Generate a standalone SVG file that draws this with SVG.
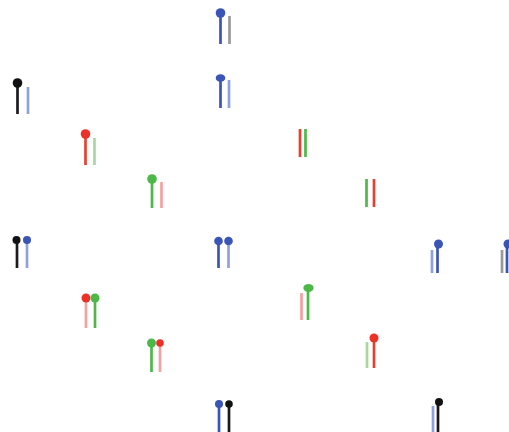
<svg xmlns="http://www.w3.org/2000/svg" width="509" height="432" viewBox="0 0 509 432">
<style>
line{stroke-width:2.7}
.b{stroke:#3a55b5}.lb{stroke:#8fa0e0}.k{stroke:#1a1a1a}.g{stroke:#999}
.r{stroke:#e8402e}.lr{stroke:#f2a0a0}.gr{stroke:#4cb848}.lg{stroke:#a8d8a0}
.fb{fill:#3a55b5}.fk{fill:#111}.fr{fill:#ec3228}.fg{fill:#4cb848}
</style>
<rect width="509" height="432" fill="#fff"/>
<g id="s1"><line class="b" x1="220.5" y1="13" x2="220.5" y2="44"/><line class="g" x1="229.5" y1="16" x2="229.5" y2="44"/><circle class="fb" cx="220.5" cy="13" r="4.8"/></g>
<g id="s2"><line class="k" x1="17.5" y1="83" x2="17.5" y2="114"/><line class="lb" x1="28" y1="87" x2="28" y2="114"/><circle class="fk" cx="17.5" cy="83" r="4.8"/></g>
<g id="s3"><line class="b" x1="220.5" y1="78" x2="220.5" y2="108"/><line class="lb" x1="229" y1="80" x2="229" y2="108"/><ellipse class="fb" cx="220.5" cy="78" rx="4.8" ry="3.8"/></g>
<g id="s4"><line class="r" x1="85.5" y1="134" x2="85.5" y2="165"/><line class="lg" x1="94.5" y1="138" x2="94.5" y2="165"/><circle class="fr" cx="85.5" cy="134" r="4.8"/></g>
<g id="s5"><line class="r" x1="300" y1="129" x2="300" y2="157"/><line class="gr" x1="305.5" y1="129" x2="305.5" y2="157"/></g>
<g id="s6"><line class="gr" x1="152" y1="179" x2="152" y2="208"/><line class="lr" x1="161.5" y1="182" x2="161.5" y2="208"/><circle class="fg" cx="152" cy="179" r="4.8"/></g>
<g id="s7"><line class="gr" x1="366.5" y1="179" x2="366.5" y2="207"/><line class="r" x1="374" y1="179" x2="374" y2="207"/></g>
<g id="s8"><line class="k" x1="17" y1="240" x2="17" y2="268"/><line class="lb" x1="27" y1="240" x2="27" y2="268"/><circle class="fk" cx="16.5" cy="240" r="4"/><circle class="fb" cx="27" cy="240" r="4"/></g>
<g id="s9"><line class="b" x1="218.5" y1="241" x2="218.5" y2="268"/><line class="lb" x1="228.5" y1="241" x2="228.5" y2="268"/><circle class="fb" cx="218.5" cy="241" r="4.3"/><circle class="fb" cx="228.5" cy="241" r="4.3"/></g>
<g id="s10"><line class="lb" x1="432" y1="250" x2="432" y2="273"/><line class="b" x1="437.5" y1="246" x2="437.5" y2="273"/><circle class="fb" cx="438.5" cy="244" r="4.5"/></g>
<g id="s11"><line class="g" x1="502" y1="250" x2="502" y2="273"/><line class="b" x1="507" y1="246" x2="507" y2="273"/><circle class="fb" cx="508" cy="244" r="4.5"/></g>
<g id="s12"><line class="lr" x1="86" y1="298" x2="86" y2="328"/><line class="gr" x1="95" y1="298" x2="95" y2="328"/><circle class="fr" cx="86" cy="298" r="4.5"/><circle class="fg" cx="95" cy="298" r="4.5"/></g>
<g id="s13"><line class="lr" x1="301.5" y1="293" x2="301.5" y2="320"/><line class="gr" x1="308" y1="288" x2="308" y2="320"/><ellipse class="fg" cx="308.5" cy="288" rx="5.2" ry="4"/></g>
<g id="s14"><line class="gr" x1="151.5" y1="343" x2="151.5" y2="372"/><line class="lr" x1="160" y1="343" x2="160" y2="372"/><circle class="fg" cx="151.5" cy="343" r="4.5"/><circle class="fr" cx="160" cy="343" r="3.8"/></g>
<g id="s15"><line class="lg" x1="367" y1="342" x2="367" y2="368"/><line class="r" x1="374" y1="338" x2="374" y2="368"/><circle class="fr" cx="374" cy="338" r="4.5"/></g>
<g id="s16"><line class="b" x1="219" y1="404" x2="219" y2="432"/><line class="k" x1="229" y1="404" x2="229" y2="432"/><circle class="fb" cx="219" cy="404" r="4"/><circle class="fk" cx="229" cy="404" r="3.8"/></g>
<g id="s17"><line class="lb" x1="433" y1="406" x2="433" y2="432"/><line class="k" x1="438" y1="403" x2="438" y2="432"/><circle class="fk" cx="439" cy="402" r="4"/></g>
</svg>
